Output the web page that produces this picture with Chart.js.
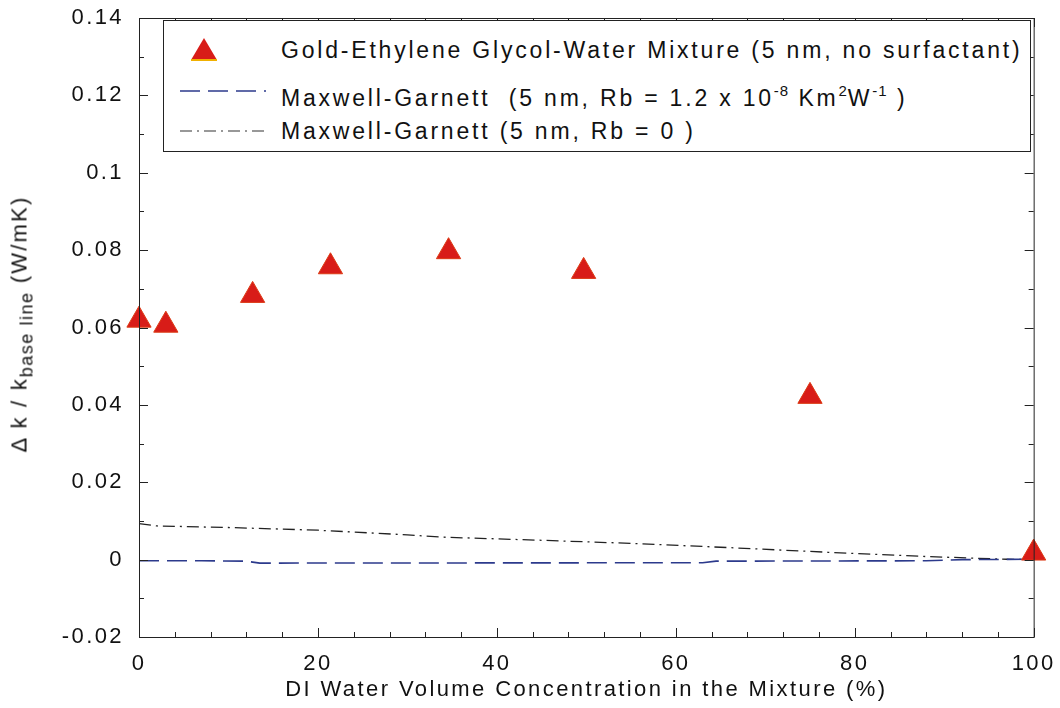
<!DOCTYPE html>
<html>
<head>
<meta charset="utf-8">
<script src="https://cdn.jsdelivr.net/npm/chart.js@4.4.1/dist/chart.umd.min.js"></script>
<style>
    body { margin: 0; background: #fff; font-family: "Liberation Sans", Arial, sans-serif; }
    #wrap { position: relative; width: 1060px; height: 708px; }
    #ytitle {
        position: absolute; left: 22px; top: 324px;
        transform: translate(-50%, -50%) rotate(-90deg);
        white-space: nowrap; font-size: 22px; letter-spacing: 2.2px; color: #111;
    }
    #ytitle sub { font-size: 18px; letter-spacing: 1.5px; vertical-align: -6px; }
    #legend {
        position: absolute; left: 163px; top: 20px; width: 866px; height: 130px;
        border: 1px solid #222; background: #fff; font-size: 23px; letter-spacing: 2.8px; color: #111;
    }
    .row { position: absolute; left: 0; height: 30px; line-height: 30px; white-space: nowrap; }
    .row span.txt { position: absolute; left: 117px; }
    .row sup { font-size: 15px; letter-spacing: 1px; vertical-align: 10px; }
</style>
</head>
<body>
<div id="wrap">
    <canvas id="myChart" width="1060" height="708"></canvas>
    <div id="ytitle">&Delta; k / k<sub>base line</sub> (W/mK)</div>
    <div id="legend">
        <div class="row" style="top:14px">
            <svg width="100" height="30" style="position:absolute;left:24px;top:0">
                <polygon points="16,3 29,25 3,25" fill="#d81c18"/>
                <line x1="3" y1="25" x2="29" y2="25" stroke="#f0b000" stroke-width="2"/>
            </svg>
            <span class="txt">Gold-Ethylene Glycol-Water Mixture (5 nm, no surfactant)</span>
        </div>
        <div class="row" style="top:55px">
            <svg width="100" height="30" style="position:absolute;left:16px;top:0">
                <line x1="0" y1="15" x2="86" y2="15" stroke="#2c3a8c" stroke-width="1.6" stroke-dasharray="20 8"/>
            </svg>
            <span class="txt">Maxwell-Garnett&nbsp; (5 nm, Rb = 1.2 x 10<sup>-8</sup> Km<sup>2</sup>W<sup>-1</sup> )</span>
        </div>
        <div class="row" style="top:95px">
            <svg width="100" height="30" style="position:absolute;left:16px;top:0">
                <line x1="0" y1="15" x2="86" y2="15" stroke="#333" stroke-width="1.2" stroke-dasharray="12 5 2 5"/>
            </svg>
            <span class="txt">Maxwell-Garnett (5 nm, Rb = 0 )</span>
        </div>
    </div>
</div>
<script>
// measured points
const waterPct = [0, 3, 12.7, 21.4, 34.6, 49.7, 75, 100];
const goldDk = [0.0619, 0.0606, 0.0683, 0.0757, 0.0796, 0.0745, 0.0422, 0.0017];

// Maxwell-Garnett, Rb = 1.2e-8
const mgRbX = [0, 7, 12, 13.5, 63, 64.5, 88, 92, 100];
const mgRbY = [-0.0003, -0.0003, -0.0004, -0.0009, -0.0008, -0.0004, -0.0003, 0.0000, 0.0001];

// Maxwell-Garnett, Rb = 0
const mgZeroX = [0, 2, 10, 20, 30, 34, 45, 55, 66, 77, 88, 97, 100];
const mgZeroY = [0.0093, 0.0087, 0.0083, 0.0076, 0.0064, 0.0058, 0.0050, 0.0042, 0.0031, 0.0019, 0.0008, 0.0001, 0.0000];

const yTicks = ["-0.02", "0", "0.02", "0.04", "0.06", "0.08", "0.1", "0.12", "0.14"];

function pts(xs, ys) {
    return xs.map(function (x, i) { return { x: x, y: ys[i] }; });
}

// MATLAB style box with inward ticks on all four sides
const boxTicks = {
    id: "boxTicks",
    beforeDraw: function (chart) {
        chart.ctx.letterSpacing = "2.4px";
    },
    afterDraw: function (chart) {
        const ctx = chart.ctx;
        const a = chart.chartArea;
        const xs = chart.scales.x, ys = chart.scales.y;
        ctx.save();
        ctx.strokeStyle = "#222";
        ctx.lineWidth = 1;
        ctx.strokeRect(a.left + 0.5, a.top + 0.5, a.right - a.left, a.bottom - a.top);
        xs.ticks.forEach(function (t) {
            const px = Math.round(xs.getPixelForValue(t.value)) + 0.5;
            const len = (Math.round(t.value) % 20 === 0) ? 9 : 5;
            ctx.beginPath();
            ctx.moveTo(px, a.bottom); ctx.lineTo(px, a.bottom - len);
            ctx.moveTo(px, a.top); ctx.lineTo(px, a.top + len);
            ctx.stroke();
        });
        ys.ticks.forEach(function (t) {
            const py = Math.round(ys.getPixelForValue(t.value)) + 0.5;
            const len = (Math.round(t.value * 100) % 2 === 0) ? 9 : 5;
            ctx.beginPath();
            ctx.moveTo(a.left, py); ctx.lineTo(a.left + len, py);
            ctx.moveTo(a.right, py); ctx.lineTo(a.right - len, py);
            ctx.stroke();
        });
        ctx.restore();
    }
};

document.addEventListener("DOMContentLoaded", function () {

    const myChart = document.getElementById("myChart");

    new Chart(myChart, {
        type: "scatter",
        data: {
            datasets: [{
                label: "Gold-Ethylene Glycol-Water Mixture (5 nm, no surfactant)",
                data: pts(waterPct, goldDk),
                pointStyle: "triangle",
                pointRadius: 14,
                pointHoverRadius: 14,
                backgroundColor: "#d81c18",
                borderColor: "#dc3a14",
                borderWidth: 1,
                clip: false,
                order: 0,
            }, {
                label: "Maxwell-Garnett (5 nm, Rb = 1.2 x 10-8 Km2W-1)",
                data: pts(mgRbX, mgRbY),
                showLine: true,
                pointRadius: 0,
                borderColor: "#2c3a8c",
                borderWidth: 1.6,
                borderDash: [20, 8],
                order: 1,
            }, {
                label: "Maxwell-Garnett (5 nm, Rb = 0)",
                data: pts(mgZeroX, mgZeroY),
                showLine: true,
                pointRadius: 0,
                borderColor: "#222",
                borderWidth: 1.3,
                borderDash: [12, 5, 2, 5],
                order: 2,
            }],
        },
        options: {
            responsive: false,
            animation: false,
            layout: { padding: { top: 17, right: 21, left: 0, bottom: 0 } },
            plugins: {
                legend: { display: false },
                tooltip: { enabled: false },
            },
            scales: {
                x: {
                    type: "linear",
                    min: 0,
                    max: 100,
                    grid: { display: false },
                    border: { display: false },
                    ticks: {
                        stepSize: 4,
                        autoSkip: false,
                        maxRotation: 0,
                        padding: 8,
                        color: "#111",
                        font: { family: "Liberation Sans", size: 22, lineHeight: 1 },
                        callback: function (v) { return (Math.round(v) % 20 === 0) ? String(Math.round(v)) : ""; },
                    },
                    title: {
                        display: true,
                        text: "DI Water Volume Concentration in the Mixture (%)",
                        color: "#111",
                        font: { family: "Liberation Sans", size: 22 },
                        padding: { top: 0, bottom: 5 },
                    },
                    afterFit: function (s) { s.height = 71; },
                },
                y: {
                    min: -0.02,
                    max: 0.14,
                    grid: { display: false },
                    border: { display: false },
                    ticks: {
                        stepSize: 0.01,
                        autoSkip: false,
                        padding: 7,
                        color: "#111",
                        font: { family: "Liberation Sans", size: 22, lineHeight: 1 },
                        callback: function (v) {
                            const k = Math.round(v * 100);
                            return (k % 2 === 0) ? yTicks[(k + 2) / 2] : "";
                        },
                    },
                    afterFit: function (s) { s.width = 139; },
                },
            },
        },
        plugins: [boxTicks],
    });
});
</script>
</body>
</html>
